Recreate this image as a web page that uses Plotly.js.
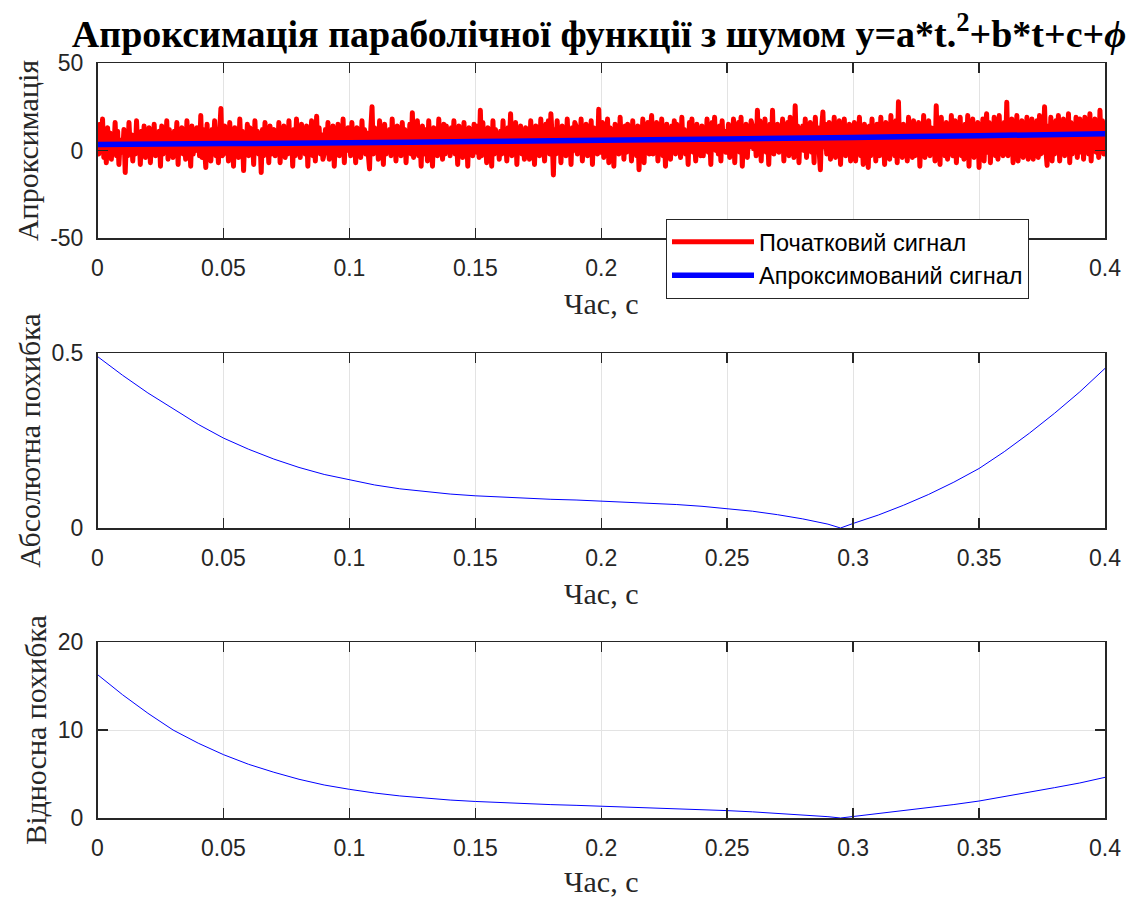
<!DOCTYPE html>
<html>
<head>
<meta charset="utf-8">
<script src="https://cdn.plot.ly/plotly-3.0.1.min.js"></script>
<style>
  html, body { margin: 0; padding: 0; background: #ffffff; }
  #chart { width: 1135px; height: 898px; }
</style>
</head>
<body>
<div id="chart"></div>
<script>
// Noisy parabolic signal, sampled every 0.5 ms from 0 to 0.4 s (20 samples per row)
const sampleStep = 0.0005;
const signalValues = [
  9, -2, 15, 1, 18, -4, 7, -7, 13, -1, 10, -5, 8, 0, 16, -3, 11, -8, 6, 1,
  -1, 12, -12.6, 7, -3, 16, 1, 9, -6, 8, -2, 17, 0, 10, -8, 11, -1, 14, -4, 7,
  0, 13, -7, 9, -1, 15, -3, 6, 1, 11, -9, 14, -2, 8, 0, 17, -5, 12, -1, 9,
  -4, 11, 0, 16, -8, 10, -1, 13, -2, 7, -5, 17, 1, 9, -9, 14, -2, 8, 0, 13,
  11, -3, 20, -4, 12, 1, -9.7, 15, -2, 8, -6, 12, 0, 17, -3, 9, -7, 11, 24, -3,
  -2, 14, 0, 8, -6, 16, -1, 9, -9, 13, 1, 7, -4, 18, -2, 11, -11.5, 10, -1, 15,
  -3, 13, 0, 8, -8, 17, -1, 11, -2, 7, -12.6, 12, -3, 16, 1, 9, -7, 14, -2, 10,
  12, -3, 8, 0, 16, -7, 10, -1, 14, -4, 7, -2, 17, 0, 11, -9, 12, -3, 18, -1,
  10, -4, 15, 1, 8, -2, 14, -9, 11, 0, 17, -3, 8, -6, 19.5, -1, 13, -2, 9, -5,
  -2, 12, 0, 16, -5, 9, -1, 14, -9, 8, 1, 15, -3, 11, -1, 18, -7, 10, 0, 13,
  11, -3, 16, 0, 9, -7, 13, -1, 8, -4, 17, 1, 12, -2, 10, -2, -10.5, 12, 25, -2,
  13, -1, 9, -5, 17, 0, 11, -8, 15, -2, 8, 1, 12, -3, 18, -1, 10, -6, 14, 0,
  10, -3, 16, 0, 12, -7, 8, -1, 15, -2, 21.5, -4, 11, 1, 17, -3, 9, -9, 14, 0,
  -2, 12, -6, 17, 1, 9, -9, 13, -1, 11, -3, 18, 0, 8, -5, 15, -2, 14, 1, 10,
  -3, 13, 0, 17, -2, 10, -8, 14, 1, 9, -4, 16, -1, 12, -9, 13, 0, 8, -3, 15,
  12, -1, 14, -4, 23, -3, 16, 0, 9, -7, 13, 1, 10, -9, 17, -2, 12, 0, 8, -5,
  11, -2, 17, 0, 9, -6, 13, 1, 21, -3, 12, -1, 16, -8, 10, 0, 14, -2, 9, -5,
  13, 0, 9, -5, 17, -1, 12, -8, 14, 2, 10, -3, 18, -1, 8, -6, 15, 0, 17, -2,
  21, 8, -14, 12, -2, 17, 0, 10, -7, 14, 1, 9, -3, 18, -1, 11, -8, 13, 0, 16,
  14, -2, 10, 0, 18, -6, 11, 1, 15, -3, 9, -1, 17, -8, 13, 0, 11, -2, 23.5, -1,
  0, 16, -4, 11, 1, 18, -7, 13, -1, 9, -9, 15, 0, 12, -2, 19, 1, 10, -5, 14,
  -1, 15, 2, 10, -6, 17, 0, 12, -3, 14, -11, 9, 1, 18, -7, 12, 0, 16, -2, 11,
  20, -2, 12, 1, 16, -6, 10, 0, 18, -3, 11, -9, 15, 2, 9, -5, 14, 0, 17, -2,
  15, 0, 10, -4, 19, 1, 12, -2, 9, -8, 16, 2, 18, -1, 11, -6, 15, 0, 10, -3,
  14, -3, 10, 1, 18, -1, 12, -8, 16, 2, 19, 0, 9, -2, 14, -6, 17, 1, 11, -1,
  0, 15, -4, 11, 2, 18, -7, 12, 1, 16, -1, 19, -9, 10, 0, 15, -4, 12, 2, 17,
  14, 1, 10, -3, 23, 0, 17, -6, 13, 2, 18, -1, 11, -8, 15, 1, 23, -2, 12, 0,
  15, -1, 11, 2, 18, -6, 12, 0, 16, -3, 19, 1, 10, -4, 25.6, 0, 14, -7, 12, 1,
  14, 0, 18, -4, 11, 2, 16, -1, 10, -7, 19, 1, 13, 0, -11, 13, 22, 2, 15, -2,
  0, 16, -5, 12, 3, 19, -4, 11, 1, 17, -8, 14, 2, 18, -3, 10, 0, 15, -6, 14,
  -2, 16, -6, 12, -1, 19, -3, 11, -8, 15, -2, 13, -9.7, 14, -3, 18, -1, 11, -6, 15,
  14, -3, 19, -1, 11, -8, 16, -2, 15, -5, 20, -1, 12, -3, 17, -7, 27.8, -2, 13, -4,
  15, -2, 12, -6, 19, -1, 14, -4, 17, -3, 11, 0, 16, -9, 13, -2, 20, -4, 12, -1,
  17, -3, 13, -1, 12, -6, 25.6, -2, 15, -8, 19, -1, 11, -3, 16, -5, 13, 0, 20, -3,
  -2, 17, -7, 13, 0, 19, -3, 12, -5, 15, -1, 20, -9, 14, -2, 18, -4, 11, -1, 16,
  -9.7, 15, -2, 18, -6, 13, 21, -1, 16, -7, 13, 0, 19, -3, 15, -5, 20, -1, 12, -3,
  16, -2, 27.5, -3, 14, 0, 18, -7, 13, -1, 20, -6, 12, -2, 17, -4, 14, -1, 19, -5,
  15, -1, 18, -5, 13, 0, 17, -4, 20, -2, 14, -1, 25, 1, -8.5, 14, -1, 19, -6, 15,
  -2, 17, 0, 20, -6, 14, -1, 18, -3, 13, 1, 21, -7, 16, -2, 15, 0, 19, -4, 13,
  18, -1, 14, -5, 19, 0, 16, -2, 21, -6, 13, 1, 18, -1, 15, -4, 23, 0, 17, -2,
  12
];

// Fitted parabola
const fitTime = [0, 0.05, 0.1, 0.15, 0.2, 0.25, 0.3, 0.35, 0.4];
const fitValues = [3.49, 3.93, 4.47, 5.08, 5.80, 6.60, 7.49, 8.47, 9.54];

// Error curves
const errTime = [0, 0.01, 0.02, 0.03, 0.04, 0.05, 0.06, 0.07, 0.08, 0.09,
  0.10, 0.11, 0.12, 0.13, 0.14, 0.15, 0.16, 0.17, 0.18, 0.19,
  0.20, 0.21, 0.22, 0.23, 0.24, 0.25, 0.26, 0.27, 0.28, 0.29, 0.295,
  0.30, 0.31, 0.32, 0.33, 0.34, 0.35, 0.36, 0.37, 0.38, 0.39, 0.40];
const absError = [0.490, 0.436, 0.386, 0.340, 0.296, 0.257, 0.225, 0.197, 0.173, 0.153,
  0.137, 0.123, 0.112, 0.104, 0.097, 0.092, 0.088, 0.085, 0.082, 0.080,
  0.077, 0.074, 0.071, 0.067, 0.062, 0.056, 0.048, 0.038, 0.026, 0.011, 0.0,
  0.013, 0.037, 0.065, 0.096, 0.131, 0.170, 0.218, 0.271, 0.328, 0.389, 0.456];
const relError = [16.3, 14.0, 11.9, 10.0, 8.5, 7.2, 6.1, 5.2, 4.4, 3.75,
  3.26, 2.84, 2.51, 2.26, 2.04, 1.88, 1.74, 1.63, 1.52, 1.44,
  1.35, 1.25, 1.17, 1.07, 0.96, 0.84, 0.70, 0.54, 0.36, 0.15, 0.0,
  0.17, 0.47, 0.80, 1.15, 1.53, 1.93, 2.41, 2.92, 3.45, 3.98, 4.62];

// Axis ticks
const timeTicks = [0, 0.05, 0.1, 0.15, 0.2, 0.25, 0.3, 0.35, 0.4];
const timeTickText = ['0', '0.05', '0.1', '0.15', '0.2', '0.25', '0.3', '0.35', '0.4'];
const approxTicks = [-50, 0, 50];
const approxTickText = ['-50', '0', '50'];
const absTicks = [0, 0.5];
const absTickText = ['0', '0.5'];
const relTicks = [0, 10, 20];
const relTickText = ['0', '10', '20'];

// Labels
const mainTitle = 'Апроксимація параболічної функції з шумом y=a*t.<sup>2</sup>+b*t+c+<i>ϕ</i>';
const timeLabel = 'Час, с';
const approxLabel = 'Апроксимація';
const absLabel = 'Абсолютна похибка';
const relLabel = 'Відносна похибка';
const signalName = 'Початковий сигнал';
const fitName = 'Апроксимований сигнал';

const signalTime = signalValues.map((_, i) => +(i * sampleStep).toFixed(5));

const W = 1135, H = 898;
const px = (a, b) => [a / W, b / W];
const py = (top, bottom) => [1 - bottom / H, 1 - top / H];

const axisColor = '#262626';
const tickFont = { family: 'Liberation Sans, Arial, sans-serif', size: 23, color: axisColor };
const titleFont = { family: 'Liberation Serif, Times New Roman, serif', size: 30, color: axisColor };

function xAxis(anchor) {
  return {
    domain: px(97.5, 1105),
    anchor: anchor,
    range: [0, 0.4],
    tickvals: timeTicks,
    ticktext: timeTickText,
    ticks: 'inside',
    ticklen: 10,
    tickwidth: 1.5,
    tickcolor: axisColor,
    showline: true,
    linecolor: axisColor,
    linewidth: 1.5,
    mirror: 'ticks',
    showgrid: true,
    gridcolor: '#e3e3e3',
    gridwidth: 1,
    zeroline: false,
    tickfont: tickFont,
    ticklabelstandoff: 9,
    title: { text: timeLabel, font: titleFont, standoff: 13 },
    fixedrange: true
  };
}

function yAxis(anchor, dom, range, ticks, tickText, label) {
  return {
    domain: dom,
    anchor: anchor,
    range: range,
    tickvals: ticks,
    ticktext: tickText,
    ticks: 'inside',
    ticklen: 10,
    tickwidth: 1.5,
    tickcolor: axisColor,
    showline: true,
    linecolor: axisColor,
    linewidth: 1.5,
    mirror: 'ticks',
    showgrid: true,
    gridcolor: '#e3e3e3',
    gridwidth: 1,
    zeroline: false,
    tickfont: tickFont,
    ticklabelstandoff: 8,
    title: { text: label, font: titleFont, standoff: 2 },
    fixedrange: true
  };
}

const traces = [
  {
    x: signalTime, y: signalValues, type: 'scatter', mode: 'lines',
    name: signalName, line: { color: '#ff0000', width: 5, simplify: false },
    xaxis: 'x', yaxis: 'y'
  },
  {
    x: fitTime, y: fitValues, type: 'scatter', mode: 'lines',
    name: fitName, line: { color: '#0000ff', width: 5.5, shape: 'spline' },
    xaxis: 'x', yaxis: 'y'
  },
  {
    x: errTime, y: absError, type: 'scatter', mode: 'lines',
    showlegend: false, line: { color: '#0000ff', width: 1 },
    xaxis: 'x2', yaxis: 'y2'
  },
  {
    x: errTime, y: relError, type: 'scatter', mode: 'lines',
    showlegend: false, line: { color: '#0000ff', width: 1 },
    xaxis: 'x3', yaxis: 'y3'
  }
];

const layout = {
  width: W, height: H,
  margin: { l: 0, r: 0, t: 0, b: 0 },
  paper_bgcolor: '#ffffff',
  plot_bgcolor: '#ffffff',
  showlegend: true,
  title: {
    text: mainTitle,
    font: { family: 'Liberation Serif, Times New Roman, serif', size: 38, color: '#000000', weight: 700 },
    x: 599 / W, xanchor: 'center',
    y: 1 - 34 / H, yanchor: 'middle'
  },
  xaxis: xAxis('y'),
  yaxis: yAxis('x', py(63, 238), [-50, 50], approxTicks, approxTickText, approxLabel),
  xaxis2: xAxis('y2'),
  yaxis2: yAxis('x2', py(353, 528), [0, 0.5], absTicks, absTickText, absLabel),
  xaxis3: xAxis('y3'),
  yaxis3: yAxis('x3', py(642, 818), [0, 20], relTicks, relTickText, relLabel),
  legend: {
    x: 666 / W, xanchor: 'left',
    y: 1 - 219 / H, yanchor: 'top',
    bgcolor: '#ffffff',
    bordercolor: axisColor,
    borderwidth: 1,
    font: { family: 'Liberation Sans, Arial, sans-serif', size: 23.5, color: '#000000' },
    itemwidth: 82,
    tracegroupgap: 0
  }
};

Plotly.newPlot('chart', traces, layout, { displayModeBar: false, staticPlot: true }).then(() => {
  document.querySelectorAll('#chart .scatterlayer path.js-line').forEach(p => {
    p.style.strokeLinejoin = 'round';
    p.style.strokeLinecap = 'round';
  });
});
</script>
</body>
</html>
